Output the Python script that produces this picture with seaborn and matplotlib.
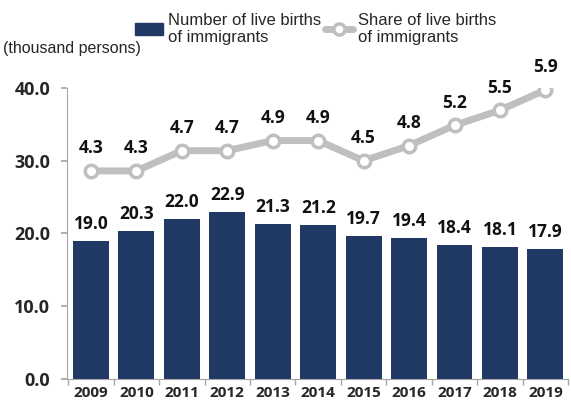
import numpy as np
import seaborn as sns
import matplotlib.pyplot as plt
from matplotlib.lines import Line2D
from matplotlib.patches import Patch

years = ["2009", "2010", "2011", "2012", "2013", "2014", "2015", "2016", "2017", "2018", "2019"]
births = [19.0, 20.3, 22.0, 22.9, 21.3, 21.2, 19.7, 19.4, 18.4, 18.1, 17.9]
share = [4.3, 4.3, 4.7, 4.7, 4.9, 4.9, 4.5, 4.8, 5.2, 5.5, 5.9]
yticks = [0, 10, 20, 30, 40]

navy = "#1f3864"
gray = "#bfbfbf"

sns.set_theme(style="white")
plt.rcParams["font.family"] = ["Open Sans", "DejaVu Sans"]

fig = plt.figure(figsize=(5.71, 4.07), dpi=100)
ax = fig.add_axes([0.117, 0.069, 0.878, 0.715])

sns.barplot(x=years, y=births, color=navy, width=0.79, saturation=1, linewidth=0, ax=ax)
ax.set_ylim(0, 40)
ax.set_xlim(-0.53, 10.5)
ax.set_yticks(yticks)
ax.set_yticklabels([f"{v:.1f}" for v in yticks], fontsize=13, fontweight="bold")
ax.set_xticks(range(len(years)))
ax.set_xticklabels(years, fontsize=11, fontweight="bold")
ax.set_xticks(np.arange(-0.5, len(years), 1), minor=True)
ax.tick_params(axis="x", which="major", length=0, pad=5)
ax.tick_params(axis="x", which="minor", length=4, color="#a6a6a6", direction="out", bottom=True)
ax.tick_params(axis="y", length=4, color="#a6a6a6", direction="out", left=True, pad=8)
ax.set_xlabel("")
ax.set_ylabel("")
for s in ["top", "right"]:
    ax.spines[s].set_visible(False)
for s in ["left", "bottom"]:
    ax.spines[s].set_color("#a6a6a6")
    ax.spines[s].set_linewidth(0.8)

for i, v in enumerate(births):
    ax.text(i, v + 1.1, f"{v:.1f}", ha="center", va="bottom", fontsize=12.5, fontweight="bold", color="#111111")

ax2 = ax.twinx()
sns.lineplot(x=np.arange(len(years)), y=share, ax=ax2, color=gray, linewidth=5,
             marker="o", markersize=9, markerfacecolor="white", markeredgecolor=gray,
             markeredgewidth=2.5)
ax2.set_ylim(0.19, 5.94)
ax2.axis("off")
for i, v in enumerate(share):
    ax2.text(i, v + 0.27, f"{v:.1f}", ha="center", va="bottom", fontsize=12.5, fontweight="bold", color="#111111")

fig.text(0.005, 0.882, "(thousand persons)", fontsize=11.5, family="Liberation Sans", va="center")

handles = [Patch(color=navy),
           Line2D([], [], color=gray, linewidth=5, marker="o", markersize=8,
                  markerfacecolor="white", markeredgecolor=gray, markeredgewidth=2.5)]
labels = ["Number of live births\nof immigrants", "Share of live births\nof immigrants"]
fig.legend(handles, labels, loc="upper left", bbox_to_anchor=(0.21, 1.005), ncol=2,
           frameon=False, prop={"family": "Liberation Sans", "size": 12},
           handlelength=1.7, handletextpad=0.3, columnspacing=0.2,
           labelspacing=0.1)

fig.savefig("out.png", dpi=100)
